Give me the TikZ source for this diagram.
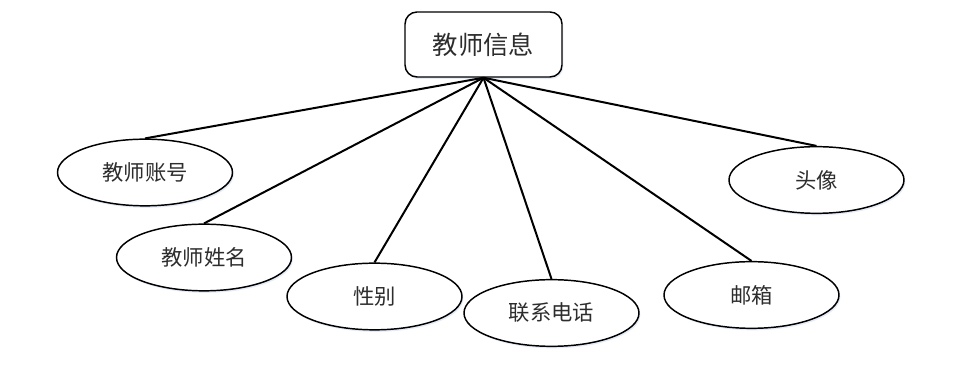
\documentclass[tikz,border=0pt]{standalone}
\usepackage{fontspec}
\newfontfamily\cjk{Noto Sans CJK SC}
\usetikzlibrary{shapes.geometric, shadows}
\definecolor{TextGray}{RGB}{45,45,45}
\definecolor{GlowBlue}{RGB}{222,231,246}

\begin{document}
\begin{tikzpicture}[
  x=0.75pt, y=-0.75pt,
  every node/.style={font=\cjk, text=TextGray},
  entity/.style={draw, line width=1.1pt, rounded corners=9pt,
                 minimum width=117.75pt, minimum height=48.75pt,
                 font=\cjk\fontsize{19pt}{22pt}\selectfont,
                 drop shadow={fill=GlowBlue, opacity=0.8, shadow xshift=1pt, shadow yshift=-1.5pt}},
  attr/.style={draw, ellipse, line width=1.1pt,
               minimum width=131.25pt, minimum height=50pt,
               font=\cjk\fontsize{16pt}{19pt}\selectfont,
               drop shadow={fill=GlowBlue, opacity=0.8, shadow xshift=1pt, shadow yshift=-1.5pt}},
  link/.style={line width=1.5pt, draw=black}
]
\useasboundingbox (0,0) rectangle (954,377);
\node[entity, fill=white] (info) at (483.5,44.5) {教师信息};
\node[attr, fill=white] (acct) at (145,172.5) {教师账号};
\node[attr, fill=white] (name) at (204,257.5) {教师姓名};
\node[attr, fill=white] (sex) at (374.5,296.5) {性别};
\node[attr, fill=white] (phone) at (551.5,313) {联系电话};
\node[attr, fill=white] (mail) at (751.5,295) {邮箱};
\node[attr, fill=white] (avatar) at (816.5,180) {头像};
\draw[link] (info.south) -- (acct.north);
\draw[link] (info.south) -- (name.north);
\draw[link] (info.south) -- (sex.north);
\draw[link] (info.south) -- (phone.north);
\draw[link] (info.south) -- (mail.north);
\draw[link] (info.south) -- (avatar.north);
\end{tikzpicture}
\end{document}
